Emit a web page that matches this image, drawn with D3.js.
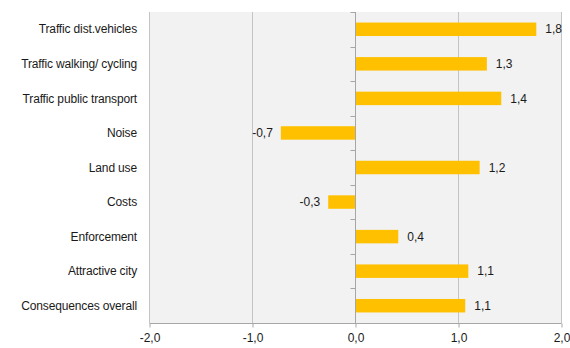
<!DOCTYPE html>
<html>
<head>
<meta charset="utf-8">
<script src="https://cdn.jsdelivr.net/npm/d3@7"></script>
<style>
  body { margin: 0; background: #fff; }
  svg text { font-family: "Liberation Sans", Arial, sans-serif; }
</style>
</head>
<body>
<svg id="chart"></svg>
<script>
const width = 570;
const height = 348;

// categories top to bottom
const categories = [
  "Traffic dist.vehicles",
  "Traffic walking/ cycling",
  "Traffic public transport",
  "Noise",
  "Land use",
  "Costs",
  "Enforcement",
  "Attractive city",
  "Consequences overall"
];
const values = [1.76, 1.28, 1.42, -0.72, 1.21, -0.26, 0.42, 1.10, 1.07];
const xTicks = [-2, -1, 0, 1, 2];

const margin = {top: 12, right: 9, bottom: 25, left: 149};

const locale = d3.formatLocale({decimal: ",", thousands: ".", grouping: [3], currency: ["", ""], minus: "-"});
const fmt = locale.format(".1f");

const svg = d3.select("#chart")
  .attr("width", width)
  .attr("height", height);

const x = d3.scaleLinear()
  .domain([-2, 2])
  .range([margin.left, width - margin.right]);

const y = d3.scaleBand()
  .domain(categories)
  .range([margin.top, height - margin.bottom])
  .paddingInner(0.61)
  .paddingOuter(0.305);

const yOuter = d3.scaleBand()
  .domain(categories)
  .range([margin.top, height - margin.bottom]);

// plot background
svg.append("rect")
  .attr("x", x(-2))
  .attr("y", margin.top)
  .attr("width", x(2) - x(-2))
  .attr("height", height - margin.bottom - margin.top)
  .attr("fill", "#f2f2f2");

// gridlines
svg.selectAll("line.grid")
  .data(xTicks.filter(d => d !== 0))
  .enter().append("line")
  .attr("class", "grid")
  .attr("x1", d => x(d) + 0.5)
  .attr("x2", d => x(d) + 0.5)
  .attr("y1", margin.top)
  .attr("y2", height - margin.bottom)
  .attr("stroke", "#c4c4c4")
  .attr("stroke-width", 1);

// bottom axis
const xAxis = d3.axisBottom(x)
  .tickValues(xTicks)
  .tickFormat(fmt)
  .tickSize(4)
  .tickPadding(6);

const gx = svg.append("g")
  .attr("transform", `translate(0.5,${height - margin.bottom + 0.5})`)
  .call(xAxis);
gx.select(".domain").attr("stroke", "#a6a6a6").attr("d", `M${x(-2)},0H${x(2)}`);
gx.selectAll(".tick line").attr("stroke", "#a6a6a6");
gx.selectAll(".tick text")
  .attr("fill", "#1a1a1a")
  .style("font-size", "12px");

// bars
svg.selectAll("rect.bar")
  .data(values)
  .enter().append("rect")
  .attr("class", "bar")
  .attr("x", d => x(Math.min(0, d)))
  .attr("y", (d, i) => y(categories[i]))
  .attr("width", d => Math.abs(x(d) - x(0)))
  .attr("height", y.bandwidth())
  .attr("fill", "#ffc000");

// zero axis with small ticks between categories
const zeroX = Math.round(x(0)) + 0.5;
svg.append("line")
  .attr("x1", zeroX).attr("x2", zeroX)
  .attr("y1", margin.top).attr("y2", height - margin.bottom)
  .attr("stroke", "#a6a6a6");
svg.selectAll("line.ytick")
  .data(categories.slice(1))
  .enter().append("line")
  .attr("class", "ytick")
  .attr("x1", zeroX - 5).attr("x2", zeroX)
  .attr("y1", d => Math.round(yOuter(d)) + 0.5)
  .attr("y2", d => Math.round(yOuter(d)) + 0.5)
  .attr("stroke", "#a6a6a6");
svg.append("line")
  .attr("x1", zeroX - 5).attr("x2", zeroX)
  .attr("y1", margin.top + 0.5).attr("y2", margin.top + 0.5)
  .attr("stroke", "#a6a6a6");

// value labels
svg.selectAll("text.val")
  .data(values)
  .enter().append("text")
  .attr("class", "val")
  .attr("x", d => d >= 0 ? x(d) + 9 : x(d) - 8)
  .attr("y", (d, i) => y(categories[i]) + y.bandwidth() / 2)
  .attr("dy", "0.35em")
  .attr("text-anchor", d => d >= 0 ? "start" : "end")
  .attr("fill", "#1a1a1a")
  .style("font-size", "12px")
  .text(d => fmt(d));

// category labels
svg.selectAll("text.cat")
  .data(categories)
  .enter().append("text")
  .attr("class", "cat")
  .attr("x", margin.left - 12)
  .attr("y", d => y(d) + y.bandwidth() / 2)
  .attr("dy", "0.35em")
  .attr("text-anchor", "end")
  .attr("fill", "#1a1a1a")
  .style("font-size", "12px")
  .style("letter-spacing", "-0.15px")
  .text(d => d);
</script>
</body>
</html>
